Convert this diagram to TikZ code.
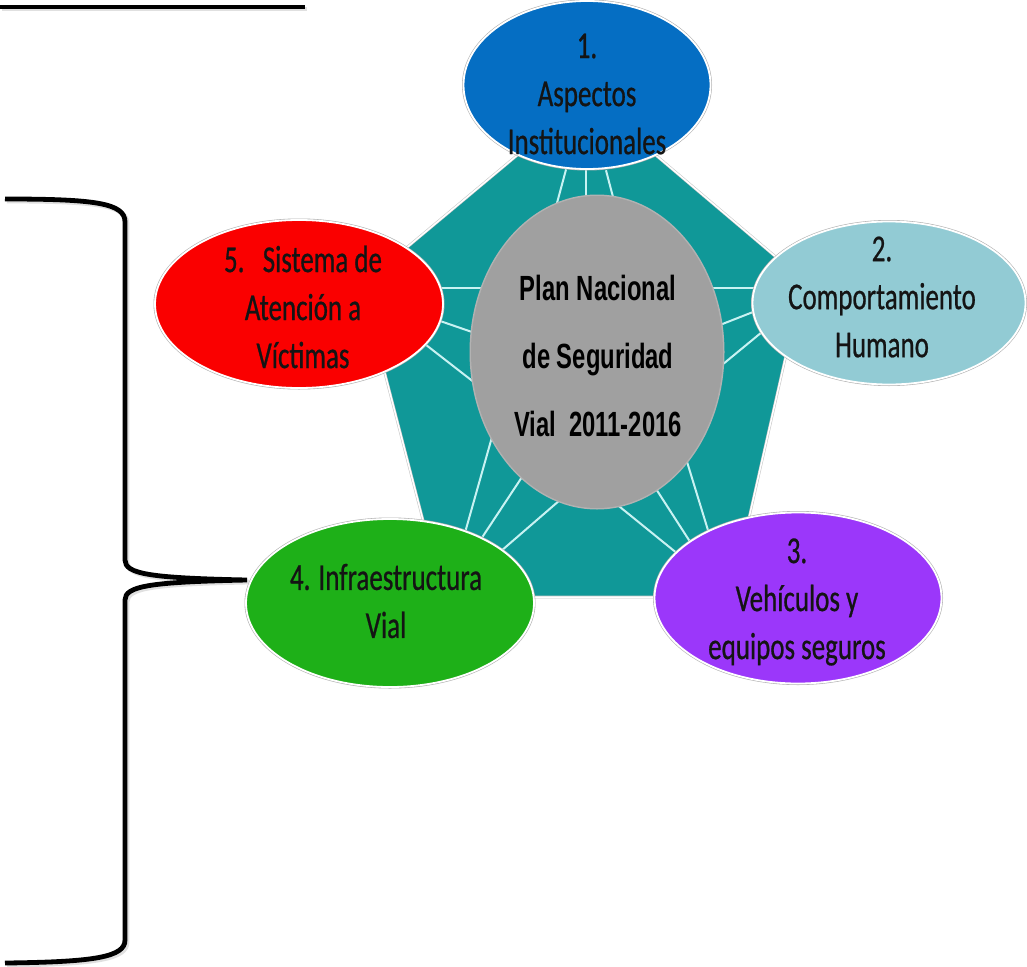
\documentclass[tikz,border=0pt]{standalone}
\usepackage{fontspec}
\newfontfamily\calfont[FakeStretch=0.71,FakeBold=0.6]{Carlito}
\newfontfamily\arfont[FakeStretch=0.68]{Liberation Sans}
\usetikzlibrary{shapes.geometric}
\definecolor{pentteal}{RGB}{16,152,152}
\definecolor{spokecol}{RGB}{200,242,242}
\definecolor{cgray}{RGB}{160,160,160}
\definecolor{eblue}{RGB}{5,110,195}
\definecolor{elblue}{RGB}{146,203,212}
\definecolor{epurple}{RGB}{155,55,250}
\definecolor{egreen}{RGB}{30,176,24}
\definecolor{ered}{RGB}{250,0,0}
\definecolor{txt}{RGB}{20,20,20}
\tikzset{
  ell/.style={ellipse, inner sep=0pt, fill=#1, draw=white, line width=1.8pt,
              preaction={draw=gray!60, line width=3pt}},
  lbl/.style={align=center, inner sep=0pt, text=txt,
              font=\calfont\fontsize{38pt}{48pt}\selectfont},
  clbl/.style={align=center, inner sep=0pt, text=black,
              font=\arfont\bfseries\fontsize{35pt}{68pt}\selectfont},
  spoke/.style={draw=spokecol, line width=2pt, shorten <=-8pt, shorten >=-8pt},
  heavy/.style={draw=black, line width=4.8pt},
  heavyshadow/.style={draw=gray!40, line width=4.8pt, opacity=0.6},
  pentline/.style={draw=white, line width=1.5pt, preaction={draw=gray!45, line width=2.6pt}}
}
\begin{document}
\begin{tikzpicture}[x=1pt,y=-1pt]
\useasboundingbox (0,0) rectangle (1027,966);
\fill[white] (0,0) rectangle (1027,966);

% top rule
\coordinate (tl1) at (0,7);
\coordinate (tl2) at (305,7);
\draw[heavyshadow] ([shift={(2,2)}]tl1) -- ([shift={(2,2)}]tl2);
\draw[heavy] (tl1) -- (tl2);

% pentagon
\coordinate (p1) at (587,97);
\coordinate (p2) at (803,280);
\coordinate (p3) at (731,597);
\coordinate (p4) at (443,597);
\coordinate (p5) at (362,285);
\fill[pentteal] (p1) -- (p2) -- (p3) -- (p4) -- (p5) -- cycle;
\draw[pentline] (p1) -- (p2) -- (p3) -- (p4) -- (p5) -- cycle;

% spokes
\draw[spoke] (557,203) -- (564,177);
\draw[spoke] (586,198) -- (586,178);
\draw[spoke] (613,197) -- (608,178);
\draw[spoke] (483,288) -- (442,288);
\draw[spoke] (472,332) -- (443,322);
\draw[spoke] (475,383) -- (430,348);
\draw[spoke] (717,288) -- (753,288);
\draw[spoke] (725,323) -- (753,312);
\draw[spoke] (728,360) -- (762,332);
\draw[spoke] (492,437) -- (468,522);
\draw[spoke] (522,477) -- (487,530);
\draw[spoke] (560,500) -- (508,545);
\draw[spoke] (620,507) -- (673,550);
\draw[spoke] (658,492) -- (687,537);
\draw[spoke] (688,465) -- (707,527);

% centre
\node[ell=cgray, draw=none, preaction={draw=none}, minimum width=252pt, minimum height=312pt] (c) at (597,352) {};
\node[clbl] (ct) at (598,356) {Plan Nacional\\de Seguridad\\Vial\ \ 2011-2016};

% outer ellipses
\node[ell=eblue, minimum width=247pt, minimum height=168pt] (n1) at (587,85) {};
\node[lbl] (t1) at (587,94) {1.\\Aspectos\\Institucionales};

\node[ell=elblue, minimum width=273pt, minimum height=163pt] (n2) at (889,303) {};
\node[lbl] (t2) at (882,297) {2.\\Comportamiento\\Humano};

\node[ell=epurple, minimum width=287pt, minimum height=171pt] (n3) at (798,598) {};
\node[lbl] (t3) at (797,602) {3.\\Vehículos y\\equipos seguros};

\node[ell=egreen, minimum width=288pt, minimum height=168pt] (n4) at (390,603) {};
\node[lbl] (t4) at (386,601) {4. Infraestructura\\Vial};

\node[ell=ered, minimum width=288pt, minimum height=168pt] (n5) at (299,304) {};
\node[lbl] (t5) at (303,307) {5.\ \ \ Sistema de\\Atención a\\Víctimas};

% brace
\coordinate (b0) at (5,199);
\coordinate (gtip) at (247,580);
\coordinate (b9) at (5,963);
\draw[heavyshadow] ([shift={(2,2)}]b0) .. controls (97,201) and (127,205) .. (127,224) -- (127,562)
   .. controls (127,576) and (152,580) .. ([shift={(2,2)}]gtip)
   .. controls (152,584) and (127,588) .. (127,602) -- (127,942)
   .. controls (127,959) and (97,964) .. ([shift={(2,2)}]b9);
\draw[heavy] (b0) .. controls (95,199) and (125,203) .. (125,222) -- (125,560)
   .. controls (125,574) and (150,578) .. (gtip)
   .. controls (150,582) and (125,586) .. (125,600) -- (125,940)
   .. controls (125,957) and (95,962) .. (b9);
\end{tikzpicture}
\end{document}
